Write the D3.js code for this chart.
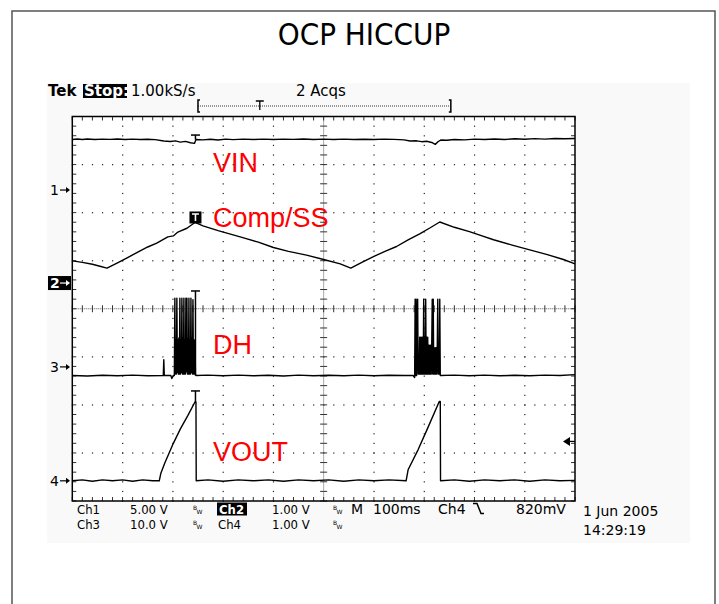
<!DOCTYPE html>
<html lang="en">
<head>
<meta charset="UTF-8">
<title>OCP HICCUP</title>
<script src="https://d3js.org/d3.v7.min.js"></script>
<style>
  body { margin: 0; background: #fff; }
  svg { display: block; }
  .scope { font-family: "DejaVu Sans", sans-serif; font-size: 13px; fill: #000; }
  .cond { font-family: "DejaVu Sans Condensed", "DejaVu Sans", sans-serif; }
  .trace { fill: none; stroke: #000; stroke-width: 1.4; stroke-linejoin: round; }
  .lbl { font-family: "Liberation Sans", Arial, sans-serif; font-size: 27px; fill: #f00; }
</style>
</head>
<body>
<svg id="chart" width="719" height="604"></svg>
<script>

// horizontal: M 100ms/div, 10 divisions -> time in ms
var timeDomain = [0, 1000];
var trigTime = 246;

// channel settings: volts per division and ground marker (divisions from centre)
var chNames  = ["1", "2", "3", "4"];
var chVdiv   = [5, 1, 10, 1];
var chGround = [2.47, 0.535, -1.21, -3.58];
var trigLevel = 0.82; // Ch4, 820mV

// record bar (fraction of the acquisition record)
var recordView = [0.25, 0.753];
var recordTrig = 0.373;

// traces, [time ms, volts]
var vinData = [[0,5.25],[10,5.31],[20,5.26],[30,5.31],[45,5.25],[60,5.30],[75,5.27],[90,5.31],[105,5.26],[120,5.30],
  [135,5.26],[150,5.29],[165,5.24],[182,5.10],[195,5.05],[205,5.12],[215,4.98],[225,5.06],[235,4.92],[243,4.85],
  [246,5.25],[260,5.22],[275,5.28],[290,5.20],[305,5.30],[320,5.24],[340,5.30],[360,5.26],[380,5.30],[400,5.25],
  [420,5.30],[440,5.27],[460,5.31],[480,5.25],[500,5.30],[520,5.26],[540,5.30],[560,5.25],[580,5.29],[600,5.25],
  [620,5.30],[640,5.27],[660,5.22],[672,5.10],[685,5.12],[695,5.03],[705,5.08],[715,4.95],[722,4.75],[728,5.05],
  [733,5.20],[745,5.18],[760,5.26],[780,5.22],[800,5.30],[820,5.25],[840,5.31],[860,5.26],[880,5.33],[900,5.28],
  [920,5.35],[940,5.30],[960,5.36],[980,5.33],[1000,5.36]];

var compData = [[0,0.46],[20,0.43],[40,0.39],[55,0.35],[69,0.31],[90,0.42],[110,0.53],[135,0.67],[150,0.75],[168,0.83],
  [190,0.96],[201,0.98],[210,1.06],[228,1.14],[244,1.26],[260,1.19],[290,1.09],[334,0.96],[370,0.85],[400,0.74],
  [430,0.66],[466,0.58],[500,0.49],[533,0.40],[554,0.31],[576,0.43],[599,0.55],[622,0.66],[645,0.76],[668,0.90],
  [692,1.03],[712,1.15],[731,1.27],[760,1.16],[790,1.07],[815,0.98],[838,0.90],[875,0.79],[910,0.69],[945,0.59],
  [977,0.49],[1000,0.40]];

var dhData = [[0,-1.8],[30,-1.9],[60,-1.75],[90,-1.85],[120,-1.7],[150,-1.85],[181,-1.8],[182,1.5],[183,-1.8],
  [196,-1.8],[198,-2.4],[201,-1.8],[203,-1.8],
  [204,14.3],[205,-1.5],[206,5.6],[207,-1.5],[208,14.3],[209,-1.2],[210,5.6],[211,-1.5],[212,6.0],[213,-1.5],
  [214,14.3],[215,-1.5],[216,5.6],[217,-1.2],[218,14.3],[219,-1.5],[220,6.0],[221,-1.5],[222,14.3],[223,-1.5],
  [224,5.6],[225,-1.5],[226,14.3],[227,-1.0],[228,14.3],[229,-1.5],[230,5.8],[231,-1.5],[232,14.3],[233,-1.5],
  [234,5.6],[235,-1.5],[236,14.3],[237,-1.2],[238,6.0],[239,-1.5],[240,14.0],[241,-1.5],[242,5.6],[243,-1.5],
  [244,5.6],[245,-1.5],[246,-1.8],
  [270,-1.7],[300,-1.85],[330,-1.7],[360,-1.85],[390,-1.75],[420,-1.9],[450,-1.7],[480,-1.85],[510,-1.75],
  [540,-1.85],[570,-1.7],[600,-1.85],[630,-1.75],[660,-1.8],[678,-1.8],[681,-2.2],
  [682,14.1],[683,-1.8],[684,14.1],[685,-1.8],[687,14.1],[688,-1.5],[690,-1.5],[691,6.2],[692,-1.5],[693,6.2],
  [694,-1.5],[695,6.2],[696,-1.5],[697,6.2],[698,-1.5],[699,14.1],[700,-1.5],[701,6.2],[702,-1.5],[703,14.1],
  [704,-1.5],[705,6.2],[706,-1.5],[707,6.2],[708,-1.5],[709,4.5],[710,-1.5],[711,4.5],[712,-1.5],[713,4.5],
  [714,-1.5],[715,4.5],[716,14.1],[717,-1.5],[718,14.1],[719,-1.5],[720,4.0],[721,-1.5],[722,4.0],[723,-1.5],
  [724,4.0],[725,-1.5],[726,4.0],[727,14.1],[728,-1.5],[729,4.0],[730,-1.5],[731,14.1],[732,-1.8],
  [760,-1.7],[790,-1.85],[820,-1.7],[850,-1.85],[880,-1.75],[910,-1.85],[940,-1.7],[970,-1.8],[1000,-1.6]];

var voutData = [[0,0.0],[20,0.02],[40,-0.01],[60,0.02],[80,0.0],[100,0.02],[120,-0.01],[140,0.02],[160,0.0],
  [173,0.0],[176,0.15],[184,0.37],[201,0.78],[215,1.08],[230,1.36],[244,1.64],[246,1.64],[246.5,0.0],
  [270,0.02],[300,-0.01],[330,0.02],[360,0.0],[390,0.02],[420,-0.01],[450,0.02],[480,0.0],[510,0.02],[540,-0.01],
  [570,0.02],[600,0.0],[630,0.02],[664,0.0],[668,0.23],[688,0.65],[705,1.05],[730,1.65],[732,1.65],[732.5,0.0],
  [760,0.02],[790,-0.01],[820,0.02],[850,0.0],[880,0.02],[910,-0.01],[940,0.02],[970,0.0],[1000,0.01]];

// trigger "T" marker tops, volts per channel
var markTop = [5.72, 1.26, 15.8, 1.87];

var traces = [vinData, compData, dhData, voutData];
var traceLabels = ["VIN", "Comp/SS", "DH", "VOUT"];
// label baselines, in volts of each channel
var labelVolts = [1.87, 1.17, 2.67, 0.42];

var svg = d3.select("#chart");

var X0 = 72.3, X1 = 575, Y0 = 116.5, Y1 = 501;
var x = d3.scaleLinear().domain(timeDomain).range([X0, X1]);
var yDiv = d3.scaleLinear().domain([-4, 4]).range([Y1, Y0]);
function yCh(c, v) { return yDiv(chGround[c] + v / chVdiv[c]); }

// page frame + scope panel
svg.append("rect").attr("x", 12).attr("y", 11).attr("width", 703).attr("height", 620)
  .attr("fill", "#fff").attr("stroke", "#555").attr("stroke-width", 1.5);
svg.append("rect").attr("x", 47).attr("y", 83).attr("width", 643).attr("height", 460).attr("fill", "#f9f9f9");
svg.append("rect").attr("x", X0).attr("y", Y0).attr("width", X1 - X0).attr("height", Y1 - Y0).attr("fill", "#fff");

svg.append("text").attr("x", 364).attr("y", 45).attr("text-anchor", "middle")
  .style("font-family", "'Liberation Sans Narrow', 'DejaVu Sans Condensed', sans-serif")
  .style("font-size", "31px").text("OCP HICCUP");

// graticule
var g = svg.append("g");
var majorT = d3.range(100, 1000, 100), majorV = d3.range(-3, 4, 1);
var minorT = d3.range(0, 1001, 20), minorV = d3.range(-4, 4.01, 0.2);

majorT.forEach(function(t) {
  if (t === 500) return;
  minorV.forEach(function(v) {
    g.append("rect").attr("x", x(t) - 0.5).attr("y", yDiv(v) - 0.5).attr("width", 1.2).attr("height", 1.2).attr("fill", "#222");
  });
});
majorV.forEach(function(v) {
  if (v === 0) return;
  minorT.forEach(function(t) {
    g.append("rect").attr("x", x(t) - 0.5).attr("y", yDiv(v) - 0.5).attr("width", 1.2).attr("height", 1.2).attr("fill", "#222");
  });
});
// centre axes, dotted with ticks
g.append("line").attr("x1", X0).attr("x2", X1).attr("y1", yDiv(0)).attr("y2", yDiv(0))
  .attr("stroke", "#555").attr("stroke-dasharray", "1,1");
g.append("line").attr("x1", x(500)).attr("x2", x(500)).attr("y1", Y0).attr("y2", Y1)
  .attr("stroke", "#555").attr("stroke-dasharray", "1,1");
minorT.forEach(function(t) {
  g.append("line").attr("x1", x(t)).attr("x2", x(t)).attr("y1", yDiv(0) - 3.5).attr("y2", yDiv(0) + 3.5).attr("stroke", "#333");
  g.append("line").attr("x1", x(t)).attr("x2", x(t)).attr("y1", Y0).attr("y2", Y0 + 4).attr("stroke", "#333");
  g.append("line").attr("x1", x(t)).attr("x2", x(t)).attr("y1", Y1).attr("y2", Y1 - 4).attr("stroke", "#333");
});
minorV.forEach(function(v) {
  g.append("line").attr("y1", yDiv(v)).attr("y2", yDiv(v)).attr("x1", x(500) - 3.5).attr("x2", x(500) + 3.5).attr("stroke", "#333");
  g.append("line").attr("y1", yDiv(v)).attr("y2", yDiv(v)).attr("x1", X0).attr("x2", X0 + 4).attr("stroke", "#333");
  g.append("line").attr("y1", yDiv(v)).attr("y2", yDiv(v)).attr("x1", X1).attr("x2", X1 - 4).attr("stroke", "#333");
});
g.append("rect").attr("x", X0).attr("y", Y0).attr("width", X1 - X0).attr("height", Y1 - Y0)
  .attr("fill", "none").attr("stroke", "#000").attr("stroke-width", 1.5);

// traces
traces.forEach(function(data, c) {
  var line = d3.line().x(function(d) { return x(d[0]); }).y(function(d) { return yCh(c, d[1]); });
  svg.append("path").datum(data).attr("class", "trace").attr("d", line);
});

// trigger markers on traces
[0, 2, 3].forEach(function(c) {
  var base = traces[c].filter(function(d) { return d[0] <= trigTime; }).slice(-1)[0][1];
  var xt = x(trigTime) - 0.5;
  svg.append("line").attr("x1", xt).attr("x2", xt).attr("y1", yCh(c, base)).attr("y2", yCh(c, markTop[c]))
    .attr("stroke", "#000").attr("stroke-width", 1.5);
  svg.append("line").attr("x1", xt - 4.5).attr("x2", xt + 4.5).attr("y1", yCh(c, markTop[c])).attr("y2", yCh(c, markTop[c]))
    .attr("stroke", "#000").attr("stroke-width", 1.5);
});
var bx = x(trigTime) - 6.5, by = yCh(1, markTop[1]) - 11;
svg.append("rect").attr("x", bx).attr("y", by).attr("width", 12).attr("height", 12).attr("fill", "#000");
svg.append("path").attr("d", "M" + (bx + 2.5) + "," + (by + 2.5) + "h7M" + (bx + 6) + "," + (by + 2.5) + "v7")
  .attr("stroke", "#fff").attr("stroke-width", 1.6);

// trace names
traces.forEach(function(data, c) {
  svg.append("text").attr("class", "lbl").attr("x", 213).attr("y", yCh(c, labelVolts[c])).text(traceLabels[c]);
});

// channel ground markers
chNames.forEach(function(n, c) {
  var yy = yDiv(chGround[c]);
  var inv = c === 1;
  if (inv) svg.append("rect").attr("x", 48).attr("y", yy - 7).attr("width", 23).attr("height", 14).attr("fill", "#000");
  var col = inv ? "#fff" : "#000";
  svg.append("text").attr("class", "scope").style("font-size", "14px").attr("x", 50).attr("y", yy + 5).style("fill", col)
    .style("font-weight", inv ? "bold" : "normal").text(n);
  svg.append("path").attr("d", "M60," + yy + "h7").attr("stroke", col).attr("stroke-width", 1.2);
  svg.append("path").attr("d", "M70," + yy + "l-4,-3v6z").attr("fill", col);
});

// trigger level arrow (right)
var ty = yCh(3, trigLevel);
svg.append("path").attr("d", "M563," + ty + "l7,-4.5v9z").attr("fill", "#000");
svg.append("path").attr("d", "M568," + ty + "h7").attr("stroke", "#000").attr("stroke-width", 1.2);

// record bar on top
var rec = d3.scaleLinear().domain([0, 1]).range([X0, X1]);
var rb = svg.append("g").attr("stroke", "#000");
rb.append("line").attr("x1", rec(recordView[0])).attr("x2", rec(recordView[1])).attr("y1", 106).attr("y2", 106)
  .attr("stroke-dasharray", "1,1").attr("stroke-width", 0.8);
rb.append("path").attr("d", "M" + (rec(recordView[0]) + 2) + ",100h-2v12h2").attr("fill", "none").attr("stroke-width", 1.5);
rb.append("path").attr("d", "M" + (rec(recordView[1]) - 2) + ",100h2v12h-2").attr("fill", "none").attr("stroke-width", 1.5);
rb.append("path").attr("d", "M" + (rec(recordTrig) - 4) + ",101h8M" + rec(recordTrig) + ",101v9").attr("stroke-width", 1.3);

// header text
var hdr = svg.append("g").attr("class", "scope").style("font-size", "15px");
hdr.append("text").attr("x", 48).attr("y", 96).style("font-weight", "bold").text("Tek");
hdr.append("rect").attr("x", 83).attr("y", 84).attr("width", 44).attr("height", 14).attr("fill", "#000");
hdr.append("text").attr("x", 84).attr("y", 96).style("font-weight", "bold").style("fill", "#fff").text("Stop:");
hdr.append("text").attr("x", 131).attr("y", 96).text("1.00kS/s");
hdr.append("text").attr("x", 296).attr("y", 96).text("2 Acqs");

// readout
var ro = svg.append("g").attr("class", "scope");
function bw(xx, yy) {
  ro.append("text").attr("x", xx).attr("y", yy - 4).style("font-size", "6px").text("B");
  ro.append("text").attr("x", xx + 3.5).attr("y", yy).style("font-size", "6px").text("W");
}
function rt(xx, yy, s) {
  return ro.append("text").attr("class", "cond").attr("x", xx).attr("y", yy).text(s);
}
var r1 = 513.5, r2 = 529;
rt(77, r1, "Ch1");
rt(130, r1, "5.00 V");
bw(193, r1);
ro.append("rect").attr("x", 217).attr("y", r1 - 11).attr("width", 30).attr("height", 13).attr("fill", "#000");
rt(219, r1, "Ch2").style("fill", "#fff").style("font-weight", "bold");
rt(272, r1, "1.00 V");
bw(333, r1);
ro.append("text").attr("x", 351).attr("y", r1).style("font-size", "14px").text("M");
ro.append("text").attr("x", 373).attr("y", r1).style("font-size", "14px").text("100ms");
ro.append("text").attr("x", 438).attr("y", r1).style("font-size", "14px").text("Ch4");
ro.append("path").attr("d", "M473," + (r1 - 10) + "h4l4,10h3").attr("fill", "none").attr("stroke", "#000").attr("stroke-width", 1.5);
ro.append("text").attr("x", 516).attr("y", r1).style("font-size", "14px").text("820mV");
rt(77, r2, "Ch3");
rt(130, r2, "10.0 V");
bw(193, r2);
rt(218, r2, "Ch4");
rt(272, r2, "1.00 V");
bw(333, r2);
ro.append("text").attr("x", 583).attr("y", 516).style("font-size", "14px").text("1 Jun 2005");
ro.append("text").attr("x", 583).attr("y", 535).style("font-size", "14px").text("14:29:19");
</script>
</body>
</html>
